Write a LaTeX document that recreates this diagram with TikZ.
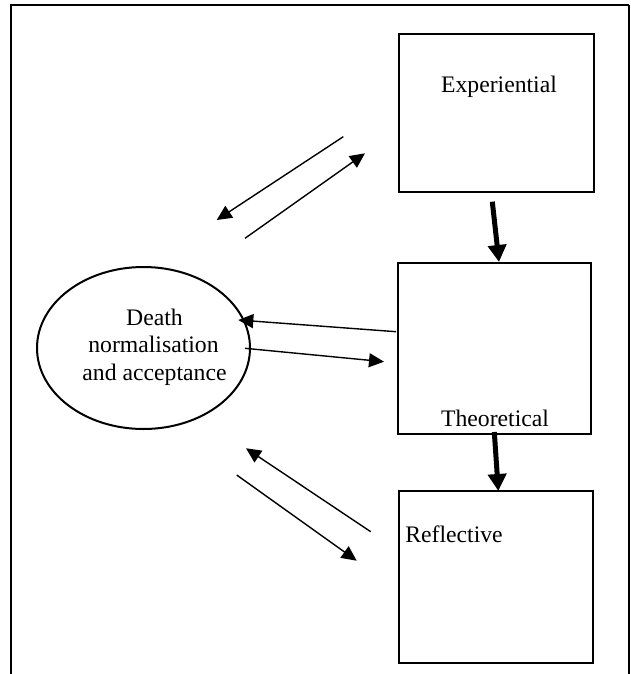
\documentclass[tikz,border=0pt]{standalone}
\usepackage{fontspec}
\setmainfont{Liberation Serif}
\usetikzlibrary{arrows.meta,shapes.geometric}
\begin{document}
\begin{tikzpicture}[x=1pt,y=-1pt,
  box/.style={draw,line width=2.5pt,inner sep=0pt},
  lbl/.style={font=\fontsize{23.7}{27.5}\selectfont,inner sep=0pt,anchor=base},
  thin/.style={line width=1.4pt,-{Triangle[length=15pt,width=14pt]}},
  thick/.style={line width=5pt,-{Triangle[length=17pt,width=18pt]}}]
\useasboundingbox (0,0) rectangle (630,674);
% frame
\draw[line width=2pt] (11,674) -- (11,5) -- (629,5);
\draw[line width=1.2pt] (629,5) -- (629,674);
% boxes
\node[box,minimum width=195pt,minimum height=158pt] (exp) at (496.5,113) {};
\node[box,minimum width=193pt,minimum height=171pt] (theo) at (494.5,348.5) {};
\node[box,minimum width=194pt,minimum height=172pt] (refl) at (496,577) {};
\node[draw,ellipse,line width=2pt,minimum width=213pt,minimum height=162pt,inner sep=0pt] (circ) at (143.5,348) {};
% labels
\node[lbl] (expl) at (499,93) {Experiential};
\node[lbl] (theol) at (495,426) {Theoretical};
\node[lbl] (refll) at (454,542) {Reflective};
\node[lbl] (d1) at (154.5,325) {Death};
\node[lbl] (d2) at (153.5,352.7) {normalisation};
\node[lbl] (d3) at (154.5,380) {and acceptance};
% arrow end points
\coordinate (a1) at (343.3,136.7); \coordinate (a2) at (216.7,220);
\coordinate (b1) at (245,238.3); \coordinate (b2) at (365,153.3);
\coordinate (c1) at (396,331.7); \coordinate (c2) at (238.3,320);
\coordinate (e1) at (245,348.3); \coordinate (e2) at (384,361.7);
\coordinate (f1) at (370.7,531.7); \coordinate (f2) at (246,448.3);
\coordinate (g1) at (236.7,475); \coordinate (g2) at (356.7,560.7);
\coordinate (t1) at (492.3,201.7); \coordinate (t2) at (499,262);
\coordinate (u1) at (494.3,432); \coordinate (u2) at (498.3,491);
\draw[thin] (a1) -- (a2);
\draw[thin] (b1) -- (b2);
\draw[thin] (c1) -- (c2);
\draw[thin] (e1) -- (e2);
\draw[thin] (f1) -- (f2);
\draw[thin] (g1) -- (g2);
\draw[thick] (t1) -- (t2);
\draw[thick] (u1) -- (u2);
\end{tikzpicture}
\end{document}
